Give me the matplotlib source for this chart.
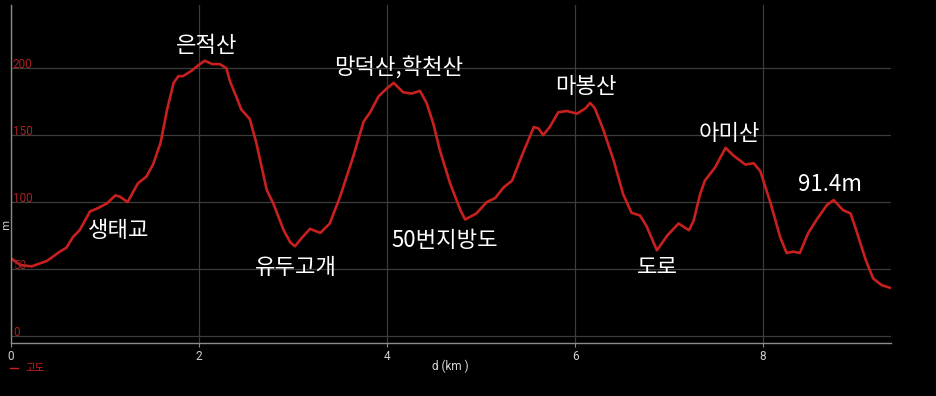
import matplotlib
matplotlib.use("Agg")
from matplotlib import pyplot as plt

plt.rcParams['font.family'] = ['Noto Sans CJK KR', 'DejaVu Sans']

# elevation profile
dist_km = [0.0, 0.10, 0.22, 0.38, 0.52, 0.59, 0.66, 0.73, 0.84, 0.91, 1.02, 1.11, 1.16,
           1.24, 1.35, 1.44, 1.51, 1.59, 1.66, 1.73, 1.78, 1.83, 1.92, 1.99, 2.06, 2.14,
           2.22, 2.29, 2.33, 2.40, 2.45, 2.54, 2.61, 2.72, 2.79, 2.90, 2.97, 3.02, 3.09,
           3.18, 3.29, 3.39, 3.50, 3.64, 3.75, 3.82, 3.91, 4.00, 4.07, 4.17, 4.26, 4.35,
           4.42, 4.49, 4.56, 4.67, 4.78, 4.83, 4.95, 5.06, 5.15, 5.24, 5.33, 5.43, 5.56,
           5.61, 5.66, 5.73, 5.82, 5.91, 6.02, 6.11, 6.16, 6.21, 6.30, 6.41, 6.51, 6.60,
           6.69, 6.76, 6.87, 6.98, 7.10, 7.21, 7.26, 7.33, 7.38, 7.49, 7.60, 7.68, 7.81,
           7.90, 7.97, 8.08, 8.18, 8.25, 8.32, 8.39, 8.48, 8.57, 8.68, 8.75, 8.85, 8.93,
           8.99, 9.09, 9.17, 9.26, 9.35]
elev_m = [58, 53, 52, 56, 63, 66, 74, 79, 93, 95, 99, 105, 104,
          100, 114, 119, 128, 144, 169, 189, 194, 194, 198, 202, 205.5, 203,
          203, 200, 190, 178, 169, 162, 144, 109, 99, 79, 70, 67, 73,
          80, 77, 84, 104, 134, 160, 167, 179, 185, 189, 182, 181, 183,
          174, 159, 139, 114, 94, 87, 91.5, 100, 103, 111, 116, 134, 156,
          155, 150, 156, 167, 168, 166, 170, 174, 170, 154, 131, 106, 92,
          90, 82, 64, 75, 84, 79, 86, 106, 116, 126, 140.5, 135, 128,
          129, 123, 99, 74, 62, 63, 62, 77, 87, 98, 101.5, 94, 91.5,
          79, 57, 43, 38, 36]

place_names = ['은적산', '망덕산,학천산', '생태교', '유두고개', '50번지방도',
               '마봉산', '도로', '아미산', '91.4m']
place_x = [2.085, 4.12, 1.15, 3.03, 4.61, 6.11, 6.87, 7.64, 8.71]
place_y = [217, 200, 79, 51, 71, 186, 51, 151, 113]

x_ticks = [0, 2, 4, 6, 8]
y_ticks = [0, 50, 100, 150, 200]

red = '#c8201e'
grid_c = '#3c3c3c'
axis_c = '#8a8a8a'

fig = plt.figure(figsize=(9.36, 3.96), dpi=100, facecolor='black')
ax = fig.add_axes([0.01175, 0.1338, 0.9402, 0.8532])
ax.set_facecolor('black')

ax.plot(dist_km, elev_m, color=red, lw=1.9, solid_joinstyle='round',
        solid_capstyle='round')

ax.set_xlim(0, 9.36)
ax.set_ylim(-5.2, 247)

ax.set_xticks(x_ticks)
ax.set_xticklabels([str(t) for t in x_ticks], color='#cfcfcf', fontsize=8.5,
                   family=['Roboto', 'DejaVu Sans'])
ax.set_yticks(y_ticks)
ax.set_yticklabels([])
ax.tick_params(axis='x', length=3, color=axis_c, width=0.8, pad=2)
ax.tick_params(axis='y', length=0)
ax.grid(True, color=grid_c, lw=0.9)
ax.set_axisbelow(True)

for s in ['top', 'right']:
    ax.spines[s].set_visible(False)
for s in ['left', 'bottom']:
    ax.spines[s].set_color(axis_c)
    ax.spines[s].set_linewidth(1.0)

# y tick labels drawn inside the plot, just above each gridline
for t in y_ticks:
    ax.text(0.02, t + 3, str(t), color='#a82222', fontsize=8.5,
            family=['Roboto', 'DejaVu Sans'], va='center', ha='left')

for name, px, py in zip(place_names, place_x, place_y):
    ax.text(px, py, name, color='white', fontsize=16, ha='center', va='center')

fig.text(0.006, 0.435, 'm', color='#cfcfcf', fontsize=8, rotation=90,
         ha='center', va='center')
fig.text(0.481, 0.075, 'd (km )', color='#d8d8d8', fontsize=8.5,
         ha='center', va='center', family=['Roboto', 'DejaVu Sans'])
fig.add_artist(plt.Line2D([0.011, 0.019], [0.070, 0.070], color=red, lw=1.0))
fig.text(0.027, 0.070, '고도', color=red, fontsize=7.5, ha='left', va='center')

fig.savefig('out.png', dpi=100, facecolor='black')
